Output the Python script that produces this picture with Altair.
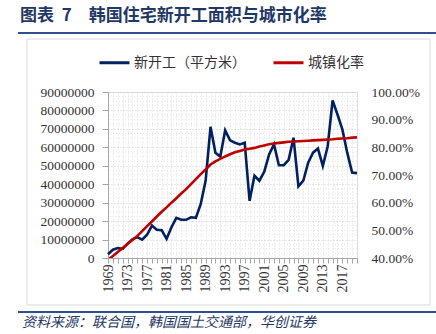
import altair as alt
import pandas as pd

years = list(range(1969, 2021))
starts_m = [2.0, 4.5, 5.4, 5.0, 7.8, 10.1, 11.3, 9.9, 12.6, 17.6,
            15.3, 15.0, 10.4, 16.7, 21.8, 20.7, 20.7, 22.1, 21.8, 29.3,
            42.0, 71.1, 57.1, 55.0, 69.2, 63.8, 62.5, 61.6, 62.5, 31.0,
            44.6, 41.9, 46.7, 56.2, 61.6, 50.3, 50.3, 53.2, 65.2, 38.8,
            41.9, 51.7, 57.1, 59.3, 49.9, 60.6, 85.5, 77.8, 69.7, 57.1,
            46.3, 46.0]
urban_pct = [39.3, 40.7, 42.2, 43.6, 45.1, 46.5, 48.0, 49.7, 51.5, 53.2,
             55.0, 56.7, 58.3, 60.0, 61.6, 63.3, 64.9, 66.7, 68.5, 70.3,
             72.0, 73.8, 74.9, 75.8, 76.7, 77.5, 78.2, 78.7, 79.2, 79.5,
             79.8, 80.3, 80.7, 81.1, 81.4, 81.6, 81.8, 82.0, 82.1, 82.2,
             82.3, 82.4, 82.5, 82.6, 82.7, 82.8, 82.9, 83.1, 83.2, 83.3,
             83.5, 83.6]
series_names = ["新开工（平方米）", "城镇化率"]
series_colors = ["#002060", "#C00000"]
left_ticks = [i * 10000000 for i in range(10)]
minor_grid = [i * 2500000 for i in range(1, 36) if i % 4 != 0]
right_ticks = [40, 50, 60, 70, 80, 90, 100]
title_text = "图表\u00a0\u00a07\u3000韩国住宅新开工面积与城市化率"
source_text = "资料来源：联合国，韩国国土交通部，华创证券"

df = pd.DataFrame({
    "year": years,
    "starts": [v * 1000000 for v in starts_m],
    "urban": urban_pct,
})
grid_df = pd.DataFrame({"g": minor_grid})
one = pd.DataFrame({"k": [0]})

NUM_FONT = "Liberation Serif"
CJK = "Noto Sans CJK SC"
NAVY = "#1F3864"

color_scale = alt.Scale(domain=series_names, range=series_colors)

x_axis = alt.Axis(
    title=None,
    values=years,
    labelExpr="(datum.value - 1969) % 4 == 0 ? '' + datum.value : ''",
    labelAngle=270,
    labelFont=NUM_FONT,
    labelFontSize=14,
    labelColor="#333333",
    labelPadding=1,
    labelOverlap=False,
    labelFlush=False,
    labelBound=False,
    tickSize=5,
    tickColor="#a6a6a6",
    domainColor="#a6a6a6",
    grid=True,
    gridColor="#dedede",
    gridDash=[1, 2],
)
x_scale = alt.Scale(domain=[1969, 2020], nice=False, zero=False)

minor = alt.Chart(grid_df).mark_rule(
    color="#e6e6e6", strokeDash=[1, 2], strokeWidth=1
).encode(
    y=alt.Y("g:Q", scale=alt.Scale(domain=[0, 90000000], nice=False), axis=None)
)

navy = alt.Chart(df).mark_line(strokeWidth=2.6).encode(
    x=alt.X("year:Q", scale=x_scale, axis=x_axis),
    y=alt.Y(
        "starts:Q",
        scale=alt.Scale(domain=[0, 90000000], nice=False),
        axis=alt.Axis(
            title=None,
            orient="left",
            values=left_ticks,
            format="d",
            labelFont=NUM_FONT,
            labelFontSize=13.5,
            labelColor="#333333",
            labelPadding=8,
            tickSize=6,
            tickColor="#a6a6a6",
            domainColor="#a6a6a6",
            grid=True,
            gridColor="#cfcfcf",
            gridDash=[1, 2],
        ),
    ),
    color=alt.Color(
        "s:N",
        scale=color_scale,
        legend=alt.Legend(
            title=None,
            orient="none",
            legendX=-10,
            legendY=-46,
            direction="horizontal",
            symbolType="stroke",
            symbolSize=900,
            symbolStrokeWidth=3,
            labelFont=CJK,
            labelFontSize=14,
            labelColor="#333333",
            labelOffset=3,
            columnPadding=21,
        ),
    ),
).transform_calculate(s="'新开工（平方米）'")

red = alt.Chart(df).mark_line(strokeWidth=2.6, clip=True).encode(
    x=alt.X("year:Q", scale=x_scale, axis=x_axis),
    y=alt.Y(
        "urban:Q",
        scale=alt.Scale(domain=[40, 100], nice=False, zero=False),
        axis=alt.Axis(
            title=None,
            orient="right",
            values=right_ticks,
            labelExpr="format(datum.value / 100, '.2%')",
            labelFont=NUM_FONT,
            labelFontSize=13.5,
            labelColor="#333333",
            labelPadding=14,
            ticks=False,
            domain=False,
            grid=False,
        ),
    ),
    color=alt.Color("s:N", scale=color_scale),
).transform_calculate(s="'城镇化率'")

frame = alt.Chart(one).mark_rect(
    fill=None, stroke="#d9d9d9", strokeWidth=1
).encode(
    x=alt.value(-81), x2=alt.value(322), y=alt.value(-53), y2=alt.value(213)
)
top_rule = alt.Chart(one).mark_rule(color="#2F4F8F", strokeWidth=2).encode(
    x=alt.value(-90), x2=alt.value(328), y=alt.value(-59)
)
bottom_rule = alt.Chart(one).mark_rule(color="#2F4F8F", strokeWidth=2).encode(
    x=alt.value(-90), x2=alt.value(328), y=alt.value(220)
)
title = alt.Chart(one).mark_text(
    text=title_text, font=CJK, fontSize=17, fontWeight="bold",
    color=NAVY, align="left", baseline="middle"
).encode(x=alt.value(-88), y=alt.value(-76))
source = alt.Chart(one).mark_text(
    text=source_text, font=CJK, fontSize=14, fontStyle="italic",
    color=NAVY, align="left", baseline="middle"
).encode(x=alt.value(-86), y=alt.value(231))

chart = alt.layer(
    minor, navy, red, frame, top_rule, bottom_rule, title, source
).resolve_scale(y="independent").properties(
    width=249,
    height=166,
    autosize=alt.AutoSizeParams(type="none"),
    padding={"left": 108, "top": 92, "right": 79, "bottom": 76},
).configure_view(stroke=None).configure(background="white")

chart.save("out.html", embed_options={"renderer": "svg", "actions": False})
